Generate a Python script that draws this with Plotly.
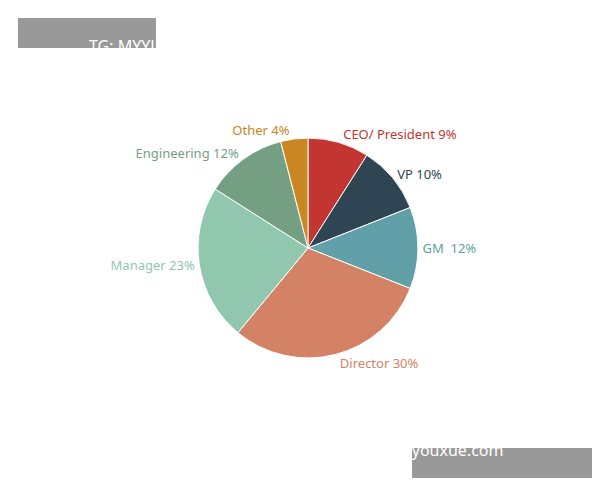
import plotly.graph_objects as go

labels = ["CEO/ President", "VP", "GM ", "Director", "Manager", "Engineering", "Other"]
values = [9, 10, 12, 30, 23, 12, 4]
colors = ["#c23531", "#2f4554", "#61a0a8", "#d48265", "#91c7ae", "#749f83", "#ca8622"]

fig = go.Figure(go.Pie(
    labels=labels, values=values, sort=False, direction="clockwise", rotation=0,
    marker=dict(colors=colors, line=dict(color="white", width=1)),
    textposition="outside", texttemplate="%{label} %{value}%",
    outsidetextfont=dict(color=colors, size=13), automargin=False,
    domain=dict(x=[0.1, 0.9], y=[0.271, 0.729]), showlegend=False, hoverinfo="label+percent",
))
fig.update_layout(
    width=600, height=480, margin=dict(l=0, r=0, t=0, b=0),
    paper_bgcolor="white", font=dict(family="Noto Sans", size=13),
    shapes=[
        dict(type="rect", xref="paper", yref="paper", x0=10/600, x1=148/600, y0=1-40/480, y1=1-10/480,
             fillcolor="#999999", line=dict(width=0), layer="below"),
        dict(type="rect", xref="paper", yref="paper", x0=404/600, x1=590/600, y0=1-470/480, y1=1-440/480,
             fillcolor="#999999", line=dict(width=0), layer="below"),
    ],
    annotations=[
        dict(text="TG: MYYJJPP", xref="paper", yref="paper", x=79/600, y=1-25/480, showarrow=False,
             font=dict(color="white", size=16)),
        dict(text="www.qzyouxue.com", xref="paper", yref="paper", x=497/600, y=1-455/480, showarrow=False,
             font=dict(color="white", size=16)),
    ],
)
fig.write_html("out.html")
